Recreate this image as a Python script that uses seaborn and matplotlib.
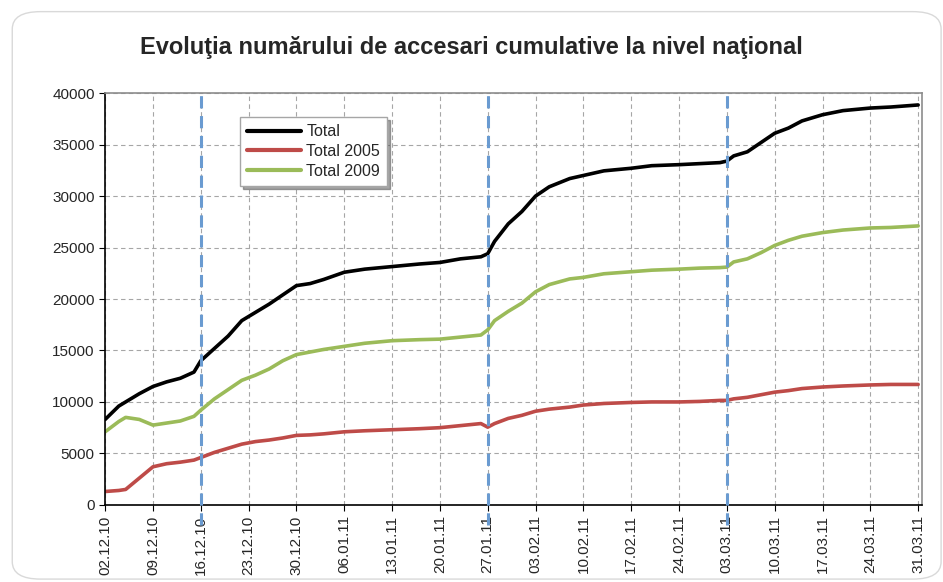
import numpy as np
import pandas as pd
import matplotlib
matplotlib.use("Agg")
import matplotlib.pyplot as plt
from matplotlib.patches import FancyBboxPatch
import seaborn as sns

# ------------------------------------------------------------
# DATA
# ------------------------------------------------------------
start = "2010-12-02"
day_offset = [0, 2, 3, 5, 7, 9, 11, 13, 14, 16, 18, 20, 22, 24, 26, 28, 30, 32,
              35, 38, 42, 46, 49, 52, 55, 56, 57, 59, 61, 63, 65, 68, 70, 73,
              77, 80, 84, 87, 90, 91, 92, 94, 96, 98, 100, 102, 105, 108, 112,
              115, 119]

total = [8300, 9600, 10000, 10800, 11500, 11950, 12300, 12900, 14000, 15200,
         16400, 17900, 18700, 19500, 20400, 21300, 21500, 21900, 22600, 22900,
         23150, 23400, 23550, 23900, 24100, 24400, 25600, 27300, 28500, 30000,
         30900, 31700, 32000, 32450, 32700, 32950, 33050, 33150, 33250, 33400,
         33900, 34300, 35200, 36100, 36600, 37300, 37900, 38300, 38550, 38650,
         38850]

total_2005 = [1300, 1400, 1500, 2600, 3700, 4000, 4150, 4350, 4600, 5100, 5500,
              5900, 6150, 6300, 6500, 6750, 6800, 6900, 7100, 7200, 7300, 7400,
              7500, 7700, 7900, 7550, 7900, 8400, 8700, 9100, 9300, 9500, 9700,
              9850, 9950, 10000, 10000, 10050, 10150, 10150, 10300, 10450, 10700,
              10950, 11100, 11300, 11450, 11550, 11650, 11700, 11700]

total_2009 = [7100, 8100, 8500, 8300, 7750, 7950, 8150, 8600, 9200, 10300,
              11200, 12100, 12600, 13200, 14000, 14600, 14850, 15100, 15400,
              15700, 15950, 16050, 16100, 16300, 16500, 17000, 17900, 18800,
              19600, 20700, 21400, 21950, 22100, 22450, 22650, 22800, 22900,
              23000, 23050, 23100, 23600, 23900, 24500, 25200, 25700, 26100,
              26450, 26700, 26900, 26950, 27100]

series_names = ["Total", "Total 2005", "Total 2009"]
series_colors = ["#000000", "#be4b48", "#9bbb59"]

tick_labels = ["02.12.10", "09.12.10", "16.12.10", "23.12.10", "30.12.10",
               "06.01.11", "13.01.11", "20.01.11", "27.01.11", "03.02.11",
               "10.02.11", "17.02.11", "24.02.11", "03.03.11", "10.03.11",
               "17.03.11", "24.03.11", "31.03.11"]
marker_dates = ["16.12.10", "27.01.11", "03.03.11"]

# ------------------------------------------------------------
# TABLE
# ------------------------------------------------------------
dates = pd.to_datetime(start) + pd.to_timedelta(day_offset, unit="D")
df = pd.DataFrame({"Data": dates, "Total": total,
                   "Total 2005": total_2005, "Total 2009": total_2009})
df_long = df.melt(id_vars="Data", var_name="Serie", value_name="Accesari")

# ------------------------------------------------------------
# PLOT
# ------------------------------------------------------------
sns.set_style("white")
plt.rcParams["font.family"] = ["Liberation Sans", "DejaVu Sans"]

fig = plt.figure(figsize=(9.43, 5.82), dpi=100)
ax = fig.add_axes([0.1115, 0.1325, 0.8665, 0.7075])

# rounded chart-area border
fig.patches.append(FancyBboxPatch((0.013, 0.005), 0.985, 0.975,
                                  boxstyle="round,pad=0,rounding_size=0.03",
                                  transform=fig.transFigure, fill=False,
                                  edgecolor="#d9d9d9", linewidth=1.0))

sns.lineplot(data=df_long, x="Data", y="Accesari", hue="Serie",
             hue_order=series_names, palette=series_colors,
             linewidth=2.6, ax=ax)

tick_dates = pd.to_datetime(tick_labels, format="%d.%m.%y")
for d in pd.to_datetime(marker_dates, format="%d.%m.%y"):
    ax.axvline(d, ymin=-0.05, ymax=1.0, color="#6a9bd1", linestyle=(0, (4, 2.5)),
               linewidth=2.2, clip_on=False, zorder=5)

ax.set_xlim(tick_dates[0], tick_dates[-1] + pd.Timedelta(days=0.6))
ax.set_ylim(0, 40000)
ax.set_yticks(np.arange(0, 40001, 5000))
ax.set_xticks(tick_dates)
ax.set_xticklabels(tick_labels, rotation=90)
ax.tick_params(axis="both", labelsize=11, length=4, direction="out",
               bottom=True, left=True, color="black")
ax.grid(True, color="#a6a6a6", linestyle=(0, (4, 3)), linewidth=0.8)
ax.set_xlabel("")
ax.set_ylabel("")

for s in ["left", "bottom"]:
    ax.spines[s].set_color("black")
    ax.spines[s].set_linewidth(1.2)
for s in ["top", "right"]:
    ax.spines[s].set_color("#8c8c8c")
    ax.spines[s].set_linewidth(1.2)

leg = ax.legend(loc="upper left", bbox_to_anchor=(0.165, 0.942), fontsize=11.5,
                frameon=True, fancybox=False, shadow=True, handlelength=3.4,
                borderpad=0.45, labelspacing=0.3, handletextpad=0.3,
                borderaxespad=0)
leg.get_frame().set_edgecolor("#a6a6a6")
for line in leg.get_lines():
    line.set_linewidth(3)

fig.text(0.5, 0.918, "Evoluţia numărului de accesari cumulative la nivel naţional",
         ha="center", va="center", fontsize=17, fontweight="bold")

plt.savefig("out.png", dpi=100)
